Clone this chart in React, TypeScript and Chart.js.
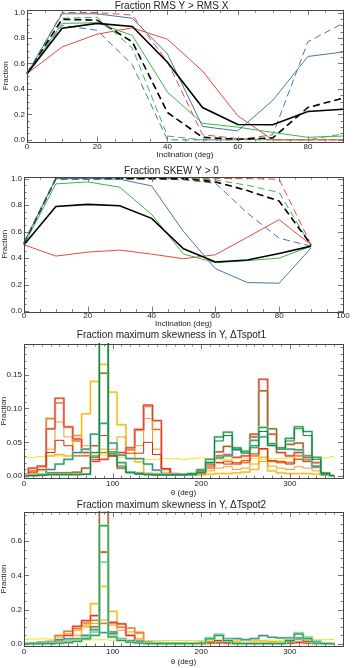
import React, { useEffect, useRef } from 'react';
import { Chart, registerables } from 'chart.js';
Chart.register(...registerables);
Chart.defaults.font.family = "'Liberation Sans', Arial, Helvetica, sans-serif";

// ---------- Panel 1: Fraction RMS Y > RMS X ----------
const inclination = [0, 10, 20, 30, 40, 50, 60, 70, 80, 90];
const rmsRedSolid = [0.52, 0.73, 0.83, 0.88, 0.79, 0.54, 0.19, 0.0, 0.0, 0.0];
const rmsBlueSolid = [0.52, 0.99, 0.99, 0.955, 0.675, 0.105, 0.07, 0.31, 0.655, 0.69];
const rmsGreenSolid = [0.52, 0.915, 0.92, 0.82, 0.375, 0.13, 0.1, 0.058, 0.02, 0.03];
const rmsBlackSolid = [0.52, 0.877, 0.915, 0.89, 0.61, 0.254, 0.12, 0.118, 0.223, 0.24];
const rmsRedDash = [0.52, 1.0, 1.0, 0.98, 0.615, 0.04, 0.01, 0.0, 0.0, 0.0];
const rmsBlueDash = [0.52, 0.9, 0.86, 0.59, 0.0, 0.0, 0.0, 0.04, 0.77, 0.916];
const rmsGreenDash = [0.52, 0.955, 0.963, 0.72, 0.03, 0.0, 0.0, 0.0, 0.0, 0.047];
const rmsBlackDash = [0.52, 0.947, 0.94, 0.77, 0.215, 0.02, 0.005, 0.015, 0.254, 0.327];

// ---------- Panel 2: Fraction SKEW Y > 0 ----------
const skRedSolid = [0.5, 0.415, 0.445, 0.46, 0.43, 0.395, 0.425, 0.557, 0.69, 0.5];
const skBlueSolid = [0.52, 1.0, 1.0, 0.995, 0.945, 0.6, 0.32, 0.215, 0.21, 0.477];
const skGreenSolid = [0.5, 0.96, 0.975, 0.935, 0.73, 0.43, 0.365, 0.38, 0.4, 0.49];
const skBlackSolid = [0.5, 0.79, 0.805, 0.795, 0.7, 0.47, 0.37, 0.385, 0.435, 0.49];
const skRedDash = [0.5, 1.0, 1.0, 1.0, 1.0, 1.0, 1.0, 1.0, 0.995, 0.5];
const skBlueDash = [0.52, 1.0, 1.0, 1.0, 1.0, 0.99, 0.965, 0.74, 0.55, 0.49];
const skGreenDash = [0.51, 1.0, 1.0, 1.0, 1.0, 1.0, 0.99, 0.95, 0.895, 0.49];
const skBlackDash = [0.51, 1.0, 1.0, 1.0, 1.0, 1.0, 0.975, 0.91, 0.83, 0.5];

// ---------- Histogram bins (deg) ----------
const thetaBins = [0, 10, 20, 30, 40, 50, 60, 70, 80, 90, 100, 110, 120, 130, 140, 150, 160, 170,
  180, 190, 200, 210, 220, 230, 240, 250, 260, 270, 280, 290, 300, 310, 320, 330, 340, 350];

// ---------- Panel 3: ΔTspot1 ----------
const p3Yellow = [0.027, 0.028, 0.029, 0.03, 0.03, 0.029, 0.03, 0.031, 0.03, 0.031, 0.029, 0.028, 0.027, 0.026, 0.025, 0.025, 0.026, 0.026, 0.025, 0.026, 0.027, 0.026, 0.025, 0.025, 0.026, 0.026, 0.026, 0.025, 0.026, 0.026, 0.027, 0.026, 0.026, 0.027, 0.027, 0.029];
const p3Gold = [0.001, 0.002, 0.003, 0.03, 0.032, 0.03, 0.06, 0.092, 0.14, 0.165, 0.124, 0.076, 0.042, 0.021, 0.004, 0.004, 0.003, 0.002, 0.002, 0.002, 0.002, 0.003, 0.004, 0.004, 0.005, 0.006, 0.01, 0.028, 0.008, 0.005, 0.004, 0.004, 0.004, 0.003, 0.002, 0.001];
const p3Orange = [0.002, 0.008, 0.014, 0.085, 0.108, 0.072, 0.052, 0.04, 0.03, 0.035, 0.03, 0.032, 0.04, 0.068, 0.103, 0.069, 0.01, 0.003, 0.002, 0.002, 0.004, 0.012, 0.02, 0.022, 0.018, 0.02, 0.03, 0.04, 0.022, 0.02, 0.02, 0.03, 0.025, 0.015, 0.004, 0.001];
const p3Salmon = [0.003, 0.012, 0.015, 0.07, 0.115, 0.073, 0.055, 0.035, 0.022, 0.025, 0.03, 0.035, 0.042, 0.069, 0.105, 0.082, 0.011, 0.004, 0.002, 0.002, 0.006, 0.018, 0.03, 0.032, 0.028, 0.03, 0.058, 0.143, 0.062, 0.035, 0.03, 0.035, 0.03, 0.02, 0.004, 0.001];
const p3Red = [0.001, 0.006, 0.01, 0.035, 0.053, 0.045, 0.03, 0.03, 0.025, 0.06, 0.035, 0.032, 0.034, 0.034, 0.05, 0.032, 0.011, 0.003, 0.002, 0.002, 0.005, 0.015, 0.02, 0.018, 0.02, 0.023, 0.033, 0.041, 0.023, 0.022, 0.018, 0.025, 0.022, 0.015, 0.003, 0.001];
const p3Orange2 = [0.001, 0.004, 0.008, 0.04, 0.08, 0.058, 0.06, 0.045, 0.035, 0.04, 0.04, 0.058, 0.038, 0.045, 0.085, 0.04, 0.006, 0.003, 0.002, 0.002, 0.003, 0.008, 0.012, 0.014, 0.01, 0.012, 0.018, 0.022, 0.015, 0.012, 0.01, 0.014, 0.012, 0.008, 0.003, 0.001];
const p3Brown = [0.001, 0.002, 0.003, 0.005, 0.005, 0.005, 0.006, 0.012, 0.045, 0.152, 0.033, 0.012, 0.006, 0.005, 0.004, 0.003, 0.002, 0.002, 0.002, 0.004, 0.01, 0.02, 0.036, 0.044, 0.04, 0.036, 0.062, 0.126, 0.07, 0.042, 0.047, 0.049, 0.022, 0.013, 0.002, 0.001];
const p3Green = [0.0, 0.001, 0.002, 0.003, 0.003, 0.003, 0.003, 0.003, 0.035, 0.24, 0.036, 0.02, 0.006, 0.004, 0.003, 0.002, 0.002, 0.002, 0.003, 0.004, 0.008, 0.025, 0.058, 0.065, 0.042, 0.036, 0.045, 0.072, 0.048, 0.042, 0.056, 0.073, 0.066, 0.028, 0.005, 0.001];
const p3Green2 = [0.0, 0.001, 0.001, 0.002, 0.002, 0.002, 0.002, 0.003, 0.028, 0.23, 0.03, 0.015, 0.005, 0.003, 0.002, 0.002, 0.002, 0.002, 0.002, 0.003, 0.006, 0.02, 0.052, 0.06, 0.04, 0.034, 0.042, 0.066, 0.045, 0.04, 0.052, 0.07, 0.06, 0.025, 0.004, 0.001];
const p3Teal = [0.0, 0.001, 0.002, 0.01, 0.018, 0.025, 0.035, 0.04, 0.062, 0.078, 0.049, 0.031, 0.026, 0.026, 0.018, 0.009, 0.003, 0.002, 0.002, 0.002, 0.006, 0.02, 0.027, 0.03, 0.039, 0.037, 0.053, 0.058, 0.046, 0.041, 0.04, 0.039, 0.028, 0.014, 0.003, 0.001];

// ---------- Panel 4: ΔTspot2 ----------
const p4Yellow = [0.026, 0.028, 0.03, 0.028, 0.026, 0.025, 0.024, 0.022, 0.024, 0.025, 0.022, 0.02, 0.02, 0.02, 0.02, 0.02, 0.02, 0.02, 0.02, 0.02, 0.02, 0.02, 0.021, 0.022, 0.02, 0.021, 0.02, 0.022, 0.022, 0.022, 0.022, 0.024, 0.024, 0.025, 0.025, 0.026];
const p4Gold = [0.002, 0.003, 0.004, 0.006, 0.012, 0.03, 0.05, 0.1, 0.235, 0.336, 0.19, 0.1, 0.05, 0.03, 0.015, 0.006, 0.004, 0.003, 0.003, 0.004, 0.006, 0.01, 0.012, 0.012, 0.015, 0.02, 0.018, 0.018, 0.014, 0.012, 0.012, 0.015, 0.012, 0.008, 0.004, 0.002];
const p4Orange = [0.001, 0.002, 0.005, 0.015, 0.05, 0.074, 0.09, 0.122, 0.138, 0.12, 0.12, 0.098, 0.093, 0.068, 0.01, 0.004, 0.002, 0.002, 0.002, 0.002, 0.003, 0.005, 0.01, 0.008, 0.004, 0.004, 0.004, 0.005, 0.004, 0.004, 0.006, 0.012, 0.008, 0.004, 0.002, 0.001];
const p4Orange2 = [0.001, 0.002, 0.004, 0.01, 0.04, 0.06, 0.08, 0.11, 0.12, 0.14, 0.11, 0.08, 0.07, 0.06, 0.015, 0.005, 0.002, 0.002, 0.002, 0.002, 0.002, 0.004, 0.008, 0.006, 0.003, 0.003, 0.003, 0.004, 0.003, 0.003, 0.005, 0.01, 0.006, 0.003, 0.002, 0.001];
const p4Red = [0.001, 0.002, 0.004, 0.01, 0.02, 0.05, 0.103, 0.136, 0.165, 0.536, 0.126, 0.117, 0.05, 0.02, 0.005, 0.003, 0.002, 0.002, 0.002, 0.002, 0.002, 0.004, 0.006, 0.004, 0.002, 0.002, 0.002, 0.003, 0.003, 0.003, 0.004, 0.008, 0.005, 0.003, 0.001, 0.001];
const p4Brown = [0.0, 0.001, 0.002, 0.004, 0.01, 0.015, 0.03, 0.05, 0.1, 0.78, 0.06, 0.03, 0.015, 0.008, 0.004, 0.002, 0.002, 0.002, 0.002, 0.002, 0.004, 0.01, 0.02, 0.01, 0.004, 0.003, 0.003, 0.004, 0.004, 0.004, 0.012, 0.03, 0.015, 0.004, 0.002, 0.001];
const p4Green = [0.0, 0.001, 0.001, 0.002, 0.004, 0.008, 0.015, 0.03, 0.05, 0.69, 0.04, 0.02, 0.01, 0.005, 0.003, 0.002, 0.002, 0.002, 0.002, 0.003, 0.004, 0.03, 0.05, 0.02, 0.003, 0.002, 0.002, 0.002, 0.002, 0.002, 0.02, 0.058, 0.031, 0.005, 0.002, 0.001];
const p4Green2 = [0.0, 0.001, 0.001, 0.002, 0.005, 0.01, 0.02, 0.04, 0.07, 0.478, 0.05, 0.025, 0.012, 0.006, 0.003, 0.002, 0.002, 0.002, 0.002, 0.003, 0.005, 0.035, 0.055, 0.025, 0.004, 0.003, 0.003, 0.003, 0.003, 0.003, 0.025, 0.065, 0.04, 0.008, 0.002, 0.001];
const p4Teal = [0.002, 0.005, 0.01, 0.01, 0.025, 0.03, 0.03, 0.05, 0.083, 0.066, 0.07, 0.03, 0.02, 0.015, 0.01, 0.008, 0.006, 0.006, 0.006, 0.006, 0.008, 0.03, 0.055, 0.031, 0.031, 0.025, 0.031, 0.049, 0.039, 0.035, 0.035, 0.035, 0.035, 0.015, 0.002, 0.001];

const RED = '#e8483c';
const BLUE = '#4677a8';
const GREEN = '#3cb44e';
const BLACK = '#000000';
const THICK = 2.2;
const THIN = 1;

function lineDs(values: number[], color: string, width: number, dashed: boolean) {
  return {
    data: values.map((v, i) => ({ x: inclination[i], y: v })),
    borderColor: color,
    borderWidth: width,
    borderDash: dashed ? [7, 4] : [],
    pointRadius: 0,
    fill: false,
    tension: 0,
    clip: 1,
  };
}

function histDs(values: number[], color: string, width: number) {
  return {
    data: values.map((v, i) => ({ x: thetaBins[i], y: v })),
    borderColor: color,
    borderWidth: width,
    stepped: 'middle',
    pointRadius: 0,
    fill: false,
    clip: 1,
  };
}

function idlAxes(xMinor: number, yMinor: number) {
  return {
    id: 'idlAxes',
    afterDraw(chart: any) {
      const { ctx, chartArea: a, scales } = chart;
      const x = scales.x, y = scales.y;
      ctx.save();
      ctx.strokeStyle = '#777';
      ctx.lineWidth = 1;
      const seg = (x1: number, y1: number, x2: number, y2: number) => {
        ctx.beginPath(); ctx.moveTo(x1, y1); ctx.lineTo(x2, y2); ctx.stroke();
      };
      const steps = (min: number, max: number, step: number) => {
        const out: number[] = [];
        for (let i = Math.ceil(min / step - 1e-9); i * step <= max + 1e-9; i++) out.push(i * step);
        return out;
      };
      const majX = x.ticks.map((t: any) => t.value);
      const majY = y.ticks.map((t: any) => t.value);
      const isMaj = (arr: number[], v: number) => arr.some((m) => Math.abs(m - v) < 1e-9);
      for (const v of steps(x.min, x.max, xMinor)) {
        const px = Math.round(x.getPixelForValue(v)) + 0.5;
        const len = isMaj(majX, v) ? 5 : 2.5;
        seg(px, a.bottom, px, a.bottom - len);
        seg(px, a.top, px, a.top + len);
      }
      for (const v of steps(y.min, y.max, yMinor)) {
        const py = Math.round(y.getPixelForValue(v)) + 0.5;
        const len = isMaj(majY, v) ? 5 : 2.5;
        seg(a.left, py, a.left + len, py);
        seg(a.right, py, a.right - len, py);
      }
      ctx.strokeStyle = '#444';
      ctx.strokeRect(Math.round(a.left) + 0.5, Math.round(a.top) + 0.5, Math.round(a.right - a.left), Math.round(a.bottom - a.top));
      ctx.restore();
    },
  };
}

type Spec = {
  datasets: any[];
  title: string;
  xMin: number; xMax: number; yMin: number; yMax: number;
  xTicks: number[]; yTicks: number[];
  yDigits: number;
  xTitle: string;
  yWidth: number; xHeight: number; padTop: number; titleLH: number; titlePadBottom: number;
  xTickPad: number; xTitlePadBottom: number; yTitlePadTop: number;
  xMinor: number; yMinor: number;
};

function makeConfig(s: Spec): any {
  return {
    type: 'line',
    data: { datasets: s.datasets.slice().reverse() },
    options: {
      responsive: false,
      animation: false,
      devicePixelRatio: 1,
      layout: { padding: { top: s.padTop, right: 11, left: 0, bottom: 0 } },
      plugins: {
        legend: { display: false },
        tooltip: { enabled: false },
        title: {
          display: true,
          text: s.title,
          color: '#222',
          font: { size: 10, weight: 'normal', lineHeight: s.titleLH },
          padding: { top: 0, bottom: s.titlePadBottom },
        },
      },
      scales: {
        x: {
          type: 'linear',
          min: s.xMin,
          max: s.xMax,
          grid: { display: false, drawTicks: false },
          border: { display: false },
          afterBuildTicks: (sc: any) => { sc.ticks = s.xTicks.map((v) => ({ value: v })); },
          afterFit: (sc: any) => { sc.height = s.xHeight; },
          ticks: { font: { size: 8 }, color: '#222', padding: s.xTickPad, maxRotation: 0, autoSkip: false, callback: (v: any) => String(v) },
          title: { display: true, text: s.xTitle, color: '#222', font: { size: 8, lineHeight: 1 }, padding: { top: 0, bottom: s.xTitlePadBottom } },
        },
        y: {
          type: 'linear',
          min: s.yMin,
          max: s.yMax,
          grid: { display: false, drawTicks: false },
          border: { display: false },
          afterBuildTicks: (sc: any) => { sc.ticks = s.yTicks.map((v) => ({ value: v })); },
          afterFit: (sc: any) => { sc.width = s.yWidth; },
          ticks: { font: { size: 8 }, color: '#222', padding: 2, autoSkip: false, callback: (v: any) => Number(v).toFixed(s.yDigits) },
          title: { display: true, text: 'Fraction', color: '#222', font: { size: 8, lineHeight: 1 }, padding: { top: s.yTitlePadTop, bottom: 0 } },
        },
      },
    },
    plugins: [idlAxes(s.xMinor, s.yMinor)],
  };
}

// datasets listed bottom -> top
const panel1: Spec = {
  datasets: [
    lineDs(rmsRedSolid, RED, 1, false),
    lineDs(rmsRedDash, RED, 1, true),
    lineDs(rmsGreenDash, GREEN, 1, true),
    lineDs(rmsBlueDash, BLUE, 1, true),
    lineDs(rmsBlackDash, BLACK, 1.6, true),
    lineDs(rmsGreenSolid, GREEN, 1, false),
    lineDs(rmsBlueSolid, BLUE, 1, false),
    lineDs(rmsBlackSolid, BLACK, 1.6, false),
  ],
  title: 'Fraction RMS Y > RMS X',
  xMin: 0, xMax: 90, yMin: -0.013, yMax: 1.02,
  xTicks: [0, 20, 40, 60, 80], yTicks: [0, 0.2, 0.4, 0.6, 0.8, 1.0], yDigits: 1,
  xTitle: 'Inclination (deg)',
  yWidth: 27, xHeight: 18.5, padTop: 1.5, titleLH: 0.85, titlePadBottom: 0, xTickPad: 0, xTitlePadBottom: 1, yTitlePadTop: 2,
  xMinor: 5, yMinor: 0.05,
};

const panel2: Spec = {
  datasets: [
    lineDs(skRedDash, RED, 1, true),
    lineDs(skGreenDash, GREEN, 1, true),
    lineDs(skBlueDash, BLUE, 1, true),
    lineDs(skBlackDash, BLACK, 1.6, true),
    lineDs(skRedSolid, RED, 1, false),
    lineDs(skGreenSolid, GREEN, 1, false),
    lineDs(skBlueSolid, BLUE, 1, false),
    lineDs(skBlackSolid, BLACK, 1.6, false),
  ],
  title: 'Fraction SKEW Y > 0',
  xMin: 0, xMax: 100, yMin: -0.005, yMax: 1.012,
  xTicks: [0, 20, 40, 60, 80, 100], yTicks: [0, 0.2, 0.4, 0.6, 0.8, 1.0], yDigits: 1,
  xTitle: 'Inclination (deg)',
  yWidth: 24, xHeight: 18.3, padTop: 6, titleLH: 1, titlePadBottom: 1, xTickPad: -1, xTitlePadBottom: 2, yTitlePadTop: 1,
  xMinor: 5, yMinor: 0.05,
};

const panel3: Spec = {
  datasets: [
    histDs(p3Yellow, '#f4e41c', THIN),
    histDs(p3Gold, '#fbdc96', THICK),
    histDs(p3Gold, '#f2bc00', THIN),
    histDs(p3Orange, '#f6c096', THICK),
    histDs(p3Orange, '#e66e10', THIN),
    histDs(p3Orange2, '#f29a22', THIN),
    histDs(p3Salmon, '#f3a096', THICK),
    histDs(p3Salmon, '#dc3c20', THIN),
    histDs(p3Red, '#d42a10', THIN),
    histDs(p3Brown, '#d8ba98', THICK),
    histDs(p3Brown, '#8c5a14', THIN),
    histDs(p3Teal, '#98cec0', THICK),
    histDs(p3Teal, '#2a8c78', THIN),
    histDs(p3Green, '#94d8aa', THICK),
    histDs(p3Green, '#1a9a40', THIN),
    histDs(p3Green2, '#0e7e3a', THIN),
  ],
  title: 'Fraction maximum skewness in Y, ΔTspot1',
  xMin: 0, xMax: 360, yMin: -0.003, yMax: 0.195,
  xTicks: [0, 100, 200, 300], yTicks: [0, 0.05, 0.1, 0.15], yDigits: 2,
  xTitle: 'θ (deg)',
  yWidth: 24, xHeight: 21.7, padTop: 0.5, titleLH: 1, titlePadBottom: 3.5, xTickPad: 1, xTitlePadBottom: 3, yTitlePadTop: 0,
  xMinor: 10, yMinor: 0.01,
};

const panel4: Spec = {
  datasets: [
    histDs(p4Yellow, '#f4e41c', THIN),
    histDs(p4Gold, '#fbdc96', THICK),
    histDs(p4Gold, '#f2bc00', THIN),
    histDs(p4Orange, '#f6c096', THICK),
    histDs(p4Orange, '#e66e10', THIN),
    histDs(p4Orange2, '#f29a22', THIN),
    histDs(p4Red, '#f3a096', THICK),
    histDs(p4Red, '#d42a10', THIN),
    histDs(p4Brown, '#d8ba98', THICK),
    histDs(p4Brown, '#8c5a14', THIN),
    histDs(p4Teal, '#98cec0', THICK),
    histDs(p4Teal, '#2a8c78', THIN),
    histDs(p4Green2, '#94d8aa', THICK),
    histDs(p4Green, '#94d8aa', THICK),
    histDs(p4Green, '#1a9a40', THIN),
  ],
  title: 'Fraction maximum skewness in Y, ΔTspot2',
  xMin: 0, xMax: 360, yMin: -0.012, yMax: 0.77,
  xTicks: [0, 100, 200, 300], yTicks: [0, 0.2, 0.4, 0.6], yDigits: 1,
  xTitle: 'θ (deg)',
  yWidth: 24, xHeight: 22, padTop: 0, titleLH: 1, titlePadBottom: 2, xTickPad: 1, xTitlePadBottom: 2, yTitlePadTop: 0,
  xMinor: 10, yMinor: 0.05,
};

function Panel({ top, height, spec }: { top: number; height: number; spec: Spec }) {
  const ref = useRef<HTMLCanvasElement>(null);
  useEffect(() => {
    const chart = new Chart(ref.current as HTMLCanvasElement, makeConfig(spec));
    return () => chart.destroy();
  }, []);
  return (
    <canvas
      ref={ref}
      width={354}
      height={height}
      style={{ position: 'absolute', left: 0, top, width: 354, height, display: 'block' }}
    />
  );
}

export default function App() {
  return (
    <div style={{ position: 'absolute', left: 0, top: 0, width: 354, height: 668, background: '#fff', overflow: 'hidden' }}>
      <Panel top={0} height={160} spec={panel1} />
      <Panel top={160} height={170} spec={panel2} />
      <Panel top={330} height={170} spec={panel3} />
      <Panel top={500} height={168} spec={panel4} />
    </div>
  );
}
